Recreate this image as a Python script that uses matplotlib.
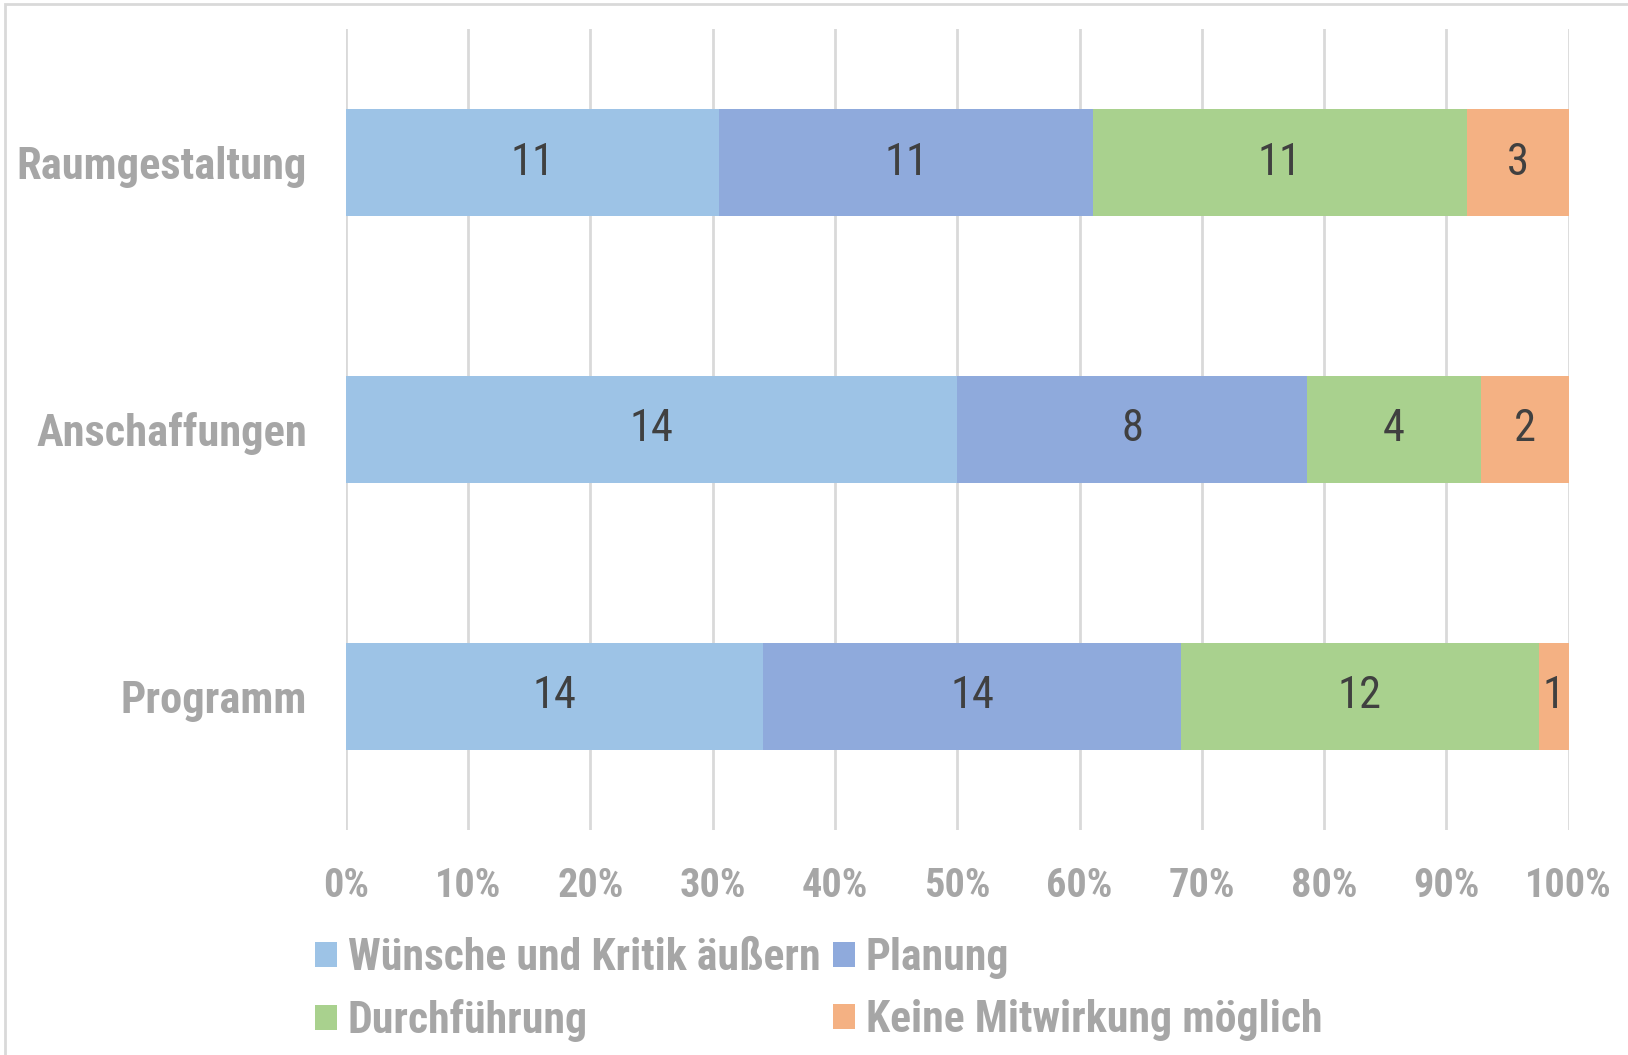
import numpy as np
from matplotlib import pyplot as plt
from matplotlib.patches import Rectangle

plt.rcParams['font.family'] = ['Roboto Condensed', 'DejaVu Sans']

categories = ['Programm', 'Anschaffungen', 'Raumgestaltung']
series = ['Wünsche und Kritik äußern', 'Planung', 'Durchführung', 'Keine Mitwirkung möglich']
counts = {
    'Wünsche und Kritik äußern': [14, 14, 11],
    'Planung': [14, 8, 11],
    'Durchführung': [12, 4, 11],
    'Keine Mitwirkung möglich': [1, 2, 3],
}
colors = ['#9DC3E6', '#8FAADC', '#A9D18E', '#F4B183']
xticks = [0, 10, 20, 30, 40, 50, 60, 70, 80, 90, 100]

gray = '#A6A6A6'

def main():
    fig = plt.figure(figsize=(16.28, 10.55), dpi=100)
    fig.patches.append(Rectangle((5 / 1628, -0.1), 1.2, 1 - 4 / 1055 + 0.1,
                                 transform=fig.transFigure, fill=False,
                                 edgecolor='#D9D9D9', linewidth=2))
    ax = fig.add_axes([0.2124, 0.2133, 0.9636 - 0.2124, 0.9725 - 0.2133])

    totals = np.sum([counts[s] for s in series], axis=0)
    y = np.arange(len(categories))
    left = np.zeros(len(categories))
    handles = []
    for s, c in zip(series, colors):
        vals = np.array(counts[s])
        pct = vals / totals * 100
        bars = ax.barh(y, pct, left=left, height=0.4, color=c, label=s, zorder=3)
        ax.bar_label(bars, labels=[str(v) for v in vals], label_type='center',
                     fontsize=32, color='#404040')
        left += pct
        handles.append(bars)

    ax.set_xlim(0, 100)
    ax.set_ylim(-0.5, 2.5)
    ax.set_xticks(xticks)
    ax.set_xticklabels([f'{t}%' for t in xticks])
    ax.set_yticks(y)
    ax.set_yticklabels(categories)
    ax.tick_params(axis='x', length=0, pad=27, labelsize=29, labelcolor=gray)
    ax.tick_params(axis='y', length=0, pad=28, labelsize=32, labelcolor=gray)
    for lab in ax.get_xticklabels() + ax.get_yticklabels():
        lab.set_fontweight('bold')
    ax.grid(axis='x', color='#D9D9D9', linewidth=2, zorder=0)
    for sp in ax.spines.values():
        sp.set_visible(False)

    # row-wise legend order: Wünsche, Planung / Durchführung, Keine
    order = [0, 2, 1, 3]
    leg = fig.legend([handles[i] for i in order], [series[i] for i in order],
                     loc='upper left', bbox_to_anchor=(0.1935, 0.112), ncol=2,
                     frameon=False, fontsize=31.5, handlelength=0.5, handleheight=0.5,
                     handletextpad=0.25, columnspacing=0.28, labelspacing=0.47,
                     borderpad=0, borderaxespad=0)
    for t in leg.get_texts():
        t.set_color(gray)
        t.set_fontweight('bold')

    fig.savefig('out.png', dpi=100, facecolor='white')

if __name__ == "__main__":
    main()
